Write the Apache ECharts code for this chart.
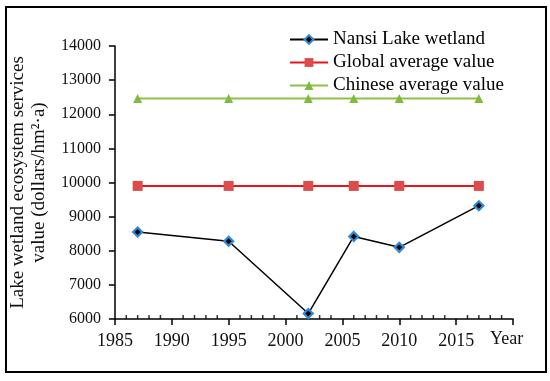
<!DOCTYPE html>
<html>
<head>
<meta charset="utf-8">
<script src="https://cdn.jsdelivr.net/npm/echarts@6/dist/echarts.min.js"></script>
<style>html,body{margin:0;padding:0;background:#fff;}#c{width:550px;height:381px;}</style>
</head>
<body>
<div id="c"></div>
<script>
const years = [1987, 1995, 2002, 2006, 2010, 2017];
const nansi = [8550, 8280, 6160, 8420, 8100, 9320];
const globalAvg = [9900, 9900, 9900, 9900, 9900, 9900];
const chineseAvg = [12460, 12460, 12460, 12460, 12460, 12460];
const seriesNames = ['Nansi Lake wetland', 'Global average value', 'Chinese average value'];
const xTicks = {min: 1985, max: 2020, interval: 5, lastLabelShown: 2015};
const minorTickYears = [1986, 1987, 1988, 1989, 1991, 1992, 1993, 1994, 1996, 1997, 1998, 1999,
  2001, 2002, 2003, 2004, 2006, 2007, 2008, 2009, 2011, 2012, 2013, 2014, 2016, 2017, 2018, 2019];
const yTicks = {min: 6000, max: 14000, interval: 1000};

const font = 'Liberation Serif, Times New Roman, serif';
const pair = (vals) => years.map((y, i) => [y, vals[i]]);

const chart = echarts.init(document.getElementById('c'), null, {renderer: 'canvas'});
chart.setOption({
  animation: false,
  backgroundColor: '#fff',
  textStyle: {fontFamily: font},
  graphic: [{
    type: 'rect', shape: {x: 6, y: 7, width: 540, height: 365},
    style: {fill: 'none', stroke: '#000', lineWidth: 2}, z: 100
  }],
  grid: {left: 107, right: 37, top: 46, bottom: 62},
  legend: {
    orient: 'vertical', left: 284, top: 25,
    itemWidth: 38, itemHeight: 11, itemGap: 4,
    textStyle: {fontFamily: font, fontSize: 19, color: '#000'},
    data: seriesNames
  },
  xAxis: {
    type: 'value', min: xTicks.min, max: xTicks.max, interval: xTicks.interval,
    name: 'Year', nameLocation: 'end', nameGap: -23,
    nameTextStyle: {fontFamily: font, fontSize: 18, color: '#111', verticalAlign: 'top', padding: [11, 0, 0, 0]},
    axisLine: {show: true, lineStyle: {color: '#000', width: 1.5}},
    axisTick: {show: true, length: 6, lineStyle: {color: '#000', width: 1.5}},
    splitLine: {show: false},
    axisLabel: {
      fontFamily: font, fontSize: 18, color: '#111', margin: 13,
      formatter: (v) => (v <= xTicks.lastLabelShown ? String(v) : '')
    }
  },
  yAxis: {
    type: 'value', min: yTicks.min, max: yTicks.max, interval: yTicks.interval,
    name: 'Lake wetland ecosystem services\nvalue (dollars/hm²·a)',
    nameLocation: 'middle', nameRotate: 90, nameGap: 55,
    nameTextStyle: {fontFamily: font, fontSize: 19, color: '#111', lineHeight: 21},
    axisLine: {show: true, lineStyle: {color: '#000', width: 1.5}},
    axisTick: {show: true, length: 6, lineStyle: {color: '#000', width: 1.5}},
    splitLine: {show: false},
    axisLabel: {fontFamily: font, fontSize: 16, color: '#111', margin: 14, formatter: (v) => String(v)}
  },
  series: [
    {
      name: 'minorTicks', type: 'scatter', silent: true, clip: false, z: 1,
      data: minorTickYears.map((y) => [y, yTicks.min]),
      symbol: 'rect', symbolSize: [1.5, 4], symbolOffset: [0, -2],
      itemStyle: {color: '#000'}
    },
    {
      name: seriesNames[0], type: 'line', data: pair(nansi),
      symbol: 'diamond', symbolSize: 9,
      lineStyle: {color: '#000', width: 1.5},
      itemStyle: {color: '#000', borderColor: '#2f8ad8', borderWidth: 2.2},
      z: 5
    },
    {
      name: seriesNames[1], type: 'line', data: pair(globalAvg),
      symbol: 'rect', symbolSize: 10,
      lineStyle: {color: '#e8151b', width: 2},
      itemStyle: {color: '#dd4b4b'}
    },
    {
      name: seriesNames[2], type: 'line', data: pair(chineseAvg),
      symbol: 'triangle', symbolSize: 9,
      lineStyle: {color: '#8cc04a', width: 2},
      itemStyle: {color: '#7fbb3e'}
    }
  ]
});
</script>
</body>
</html>
